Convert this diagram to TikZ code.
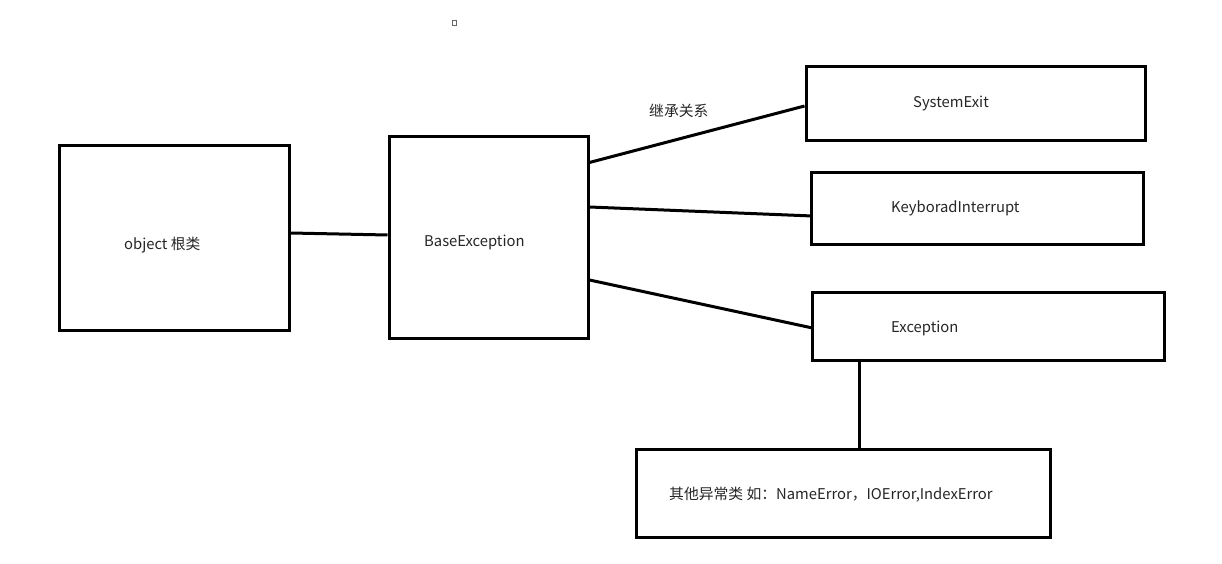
\documentclass[tikz,border=0pt]{standalone}
\usepackage{fontspec}
\setmainfont{Noto Sans CJK SC}
\begin{document}
\begin{tikzpicture}[x=1pt,y=-1pt,
  box/.style={draw=black,line width=3pt,inner sep=0pt,rectangle},
  conn/.style={draw=black,line width=3pt},
  lbl/.style={anchor=west,inner sep=0pt,font=\fontsize{14.8}{17}\selectfont,text=black!85}]
\useasboundingbox (0,0) rectangle (1222,564);
\fill[white] (0,0) rectangle (1222,564);
% boxes
\node[box,minimum width=230pt,minimum height=184pt] (obj) at (174,238) {};
\node[box,minimum width=199pt,minimum height=201pt] (base) at (488.5,237.5) {};
\node[box,minimum width=339pt,minimum height=74pt] (sysexit) at (975.5,104) {};
\node[box,minimum width=332pt,minimum height=71pt] (kbd) at (977,208.5) {};
\node[box,minimum width=352pt,minimum height=68pt] (exc) at (988,326) {};
\node[box,minimum width=414pt,minimum height=88pt] (other) at (843,493) {};
% small mark
\node[draw=black!60,line width=1pt,minimum width=4pt,minimum height=5pt,inner sep=0pt] (mark) at (454.5,23) {};
% labels
\node[lbl] (tobj) at (124,245) {object 根类};
\node[lbl] (tbase) at (424,242) {BaseException};
\node[lbl] (tsys) at (913,103) {SystemExit};
\node[lbl] (tkbd) at (891,208) {KeyboradInterrupt};
\node[lbl] (texc) at (891,328) {Exception};
\node[lbl] (tother) at (669,495) {其他异常类 如：NameError，IOError,IndexError};
\node[lbl] (trel) at (649,111) {继承关系};
% connectors
\draw[conn] ([yshift=5pt]obj.east) -- ([yshift=2.5pt]base.west);
\draw[conn] ([xshift=-2pt,yshift=74.5pt]base.east) -- ([yshift=-2pt]sysexit.west);
\draw[conn] ([yshift=30.5pt]base.east) -- ([xshift=3pt,yshift=-7.5pt]kbd.west);
\draw[conn] ([yshift=-42.5pt]base.east) -- ([xshift=2pt,yshift=-2pt]exc.west);
\draw[conn] ([xshift=-129pt,yshift=3pt]exc.south) -- ([xshift=16pt]other.north);
\end{tikzpicture}
\end{document}
